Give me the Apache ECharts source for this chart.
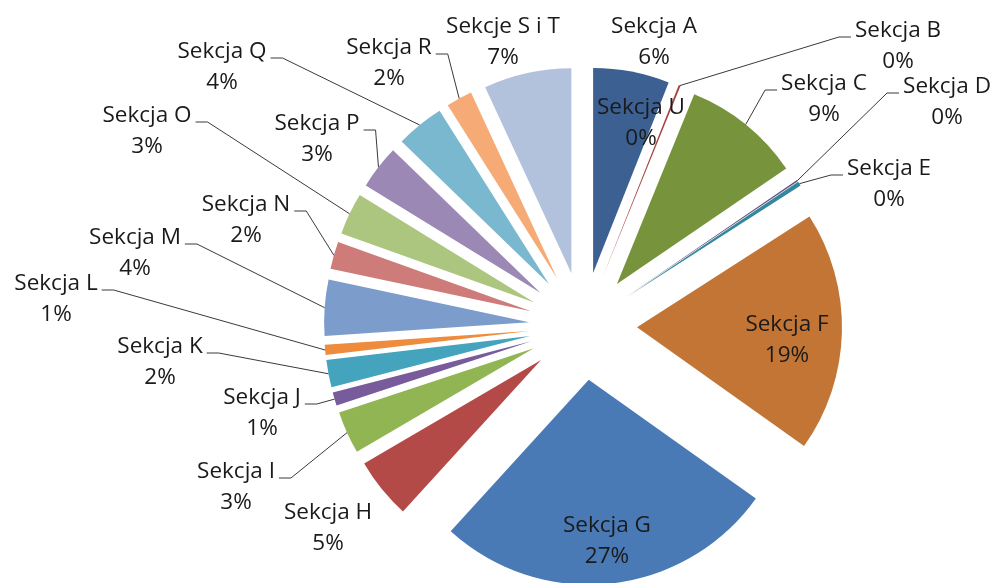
<!DOCTYPE html>
<html><head><meta charset="utf-8">
<script src="https://cdn.jsdelivr.net/npm/echarts@6/dist/echarts.min.js"></script>
<style>html,body{margin:0;padding:0;background:#fff}#chart{width:994px;height:583px}</style>
</head><body><div id="chart"></div>
<script>
const categories = ['Sekcja A','Sekcja B','Sekcja C','Sekcja D','Sekcja E','Sekcja F','Sekcja G','Sekcja H','Sekcja I','Sekcja J','Sekcja K','Sekcja L','Sekcja M','Sekcja N','Sekcja O','Sekcja P','Sekcja Q','Sekcja R','Sekcje S i T','Sekcja U'];
const shares = [6.0, 0.15, 9.3, 0.1, 0.35, 18.9, 26.9, 4.8, 3.35, 1.05, 2.15, 0.8, 4.4, 2.15, 3.3, 3.45, 3.8, 2.05, 6.9, 0.0];
const colors = ['#3B6091','#A5433F','#77933C','#614C7B','#33879F','#C27535','#4A7AB5','#B44A47','#92B554','#775B9B','#44A3BD','#EE8B3C','#7C9CCB','#CD7C79','#ACC680','#9B88B5','#7AB8CF','#F6AA76','#B2C2DC','#DFA7A6'];
const hasLeader = [false,true,true,true,true,false,false,false,true,true,true,true,true,true,true,true,true,true,false,false];
// layout constants
const CX = 583, CY = 326, R = 205, EXPLODE = 54;
// label block centres (layout, not data)
const labelPos = [[654,42],[898,46],[824,99],[947,102],[889,184],[787,340],[607,541],[328,528],[236,487],[262,413],[160,362],[56,299],[135,253],[246,220],[147,131],[317,139],[222,67],[389,63],[503,42],[641,123]];

const total = shares.reduce((s, v) => s + v, 0);
const chart = echarts.init(document.getElementById('chart'), null, {renderer: 'canvas'});
const common = {
  type: 'pie',
  center: [CX, CY],
  radius: R,
  startAngle: 90,
  clockwise: true,
  avoidLabelOverlap: false,
  minShowLabelAngle: 0,
  emphasis: {disabled: true}
};
chart.setOption({
  animation: false,
  backgroundColor: '#ffffff',
  series: [
    Object.assign({}, common, {
      name: 'slices',
      selectedMode: 'multiple',
      selectedOffset: EXPLODE,
      itemStyle: {borderWidth: 0},
      label: {show: false},
      labelLine: {show: false},
      data: categories.map((n, i) => ({
        name: n, value: shares[i], selected: true, itemStyle: {color: colors[i]}
      }))
    }),
    Object.assign({}, common, {
      name: 'labels',
      silent: true,
      z: 5,
      itemStyle: {color: 'rgba(0,0,0,0)', borderWidth: 0},
      label: {
        show: true,
        position: 'outside',
        color: '#1a1a1a',
        fontFamily: 'Open Sans',
        fontSize: 22.5,
        lineHeight: 31,
        align: 'center',
        formatter: p => p.name + '\n' + Math.round(p.value / total * 100) + '%'
      },
      labelLine: {show: true, length: 10, length2: 10, smooth: false, lineStyle: {color: '#3a3a3a', width: 1}},
      labelLayout: function (p) {
        const i = p.dataIndex;
        const c = labelPos[i];
        const out = {x: c[0], y: c[1], align: 'center', verticalAlign: 'middle'};
        if (hasLeader[i] && p.labelLinePoints) {
          const a = p.labelLinePoints[0];
          const vx = a[0] - CX, vy = a[1] - CY;
          const len = Math.hypot(vx, vy) || 1;
          const anchor = [a[0] + vx / len * EXPLODE, a[1] + vy / len * EXPLODE];
          const w = p.labelRect.width;
          const ly = c[1] - 9;
          let endX, bendX;
          if (c[0] < anchor[0]) { endX = c[0] + w / 2 + 4; bendX = endX + 12; }
          else { endX = c[0] - w / 2 - 4; bendX = endX - 12; }
          out.labelLinePoints = [anchor, [bendX, ly], [endX, ly]];
        }
        return out;
      },
      data: categories.map((n, i) => ({
        name: n, value: shares[i], labelLine: {show: hasLeader[i]}
      }))
    })
  ]
});
</script></body></html>
